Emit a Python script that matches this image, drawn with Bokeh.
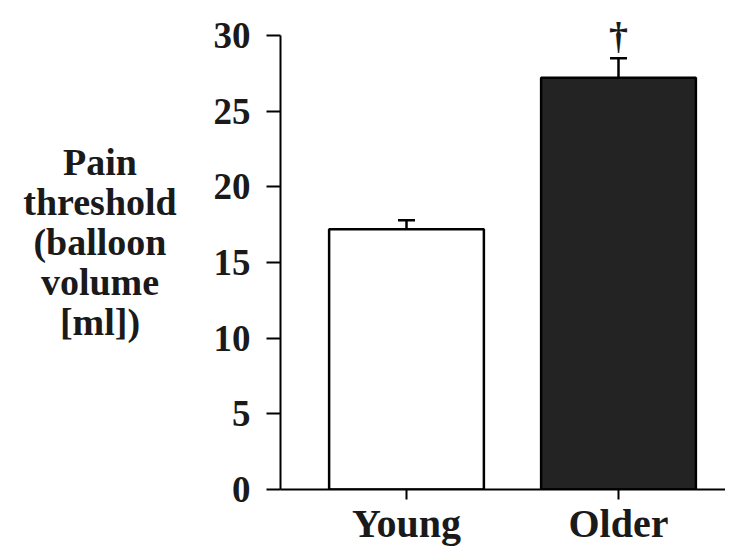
from bokeh.plotting import figure
from bokeh.models import Range1d, FixedTicker, Label, Div
from bokeh.layouts import row
from bokeh.embed import file_html
from bokeh.resources import INLINE

# ---- data ----
groups = ["Young", "Older"]
group_pos = [1, 2]
means = [17.2, 27.2]
errors = [0.6, 1.3]
y_ticks = [0, 5, 10, 15, 20, 25, 30]
y_label_lines = ["Pain", "threshold", "(balloon", "volume", "[ml])"]
marker = "\u2020"

FONT = "Liberation Serif"

DIV_W = 190
W, H = 715 - DIV_W, 556
left_b, top_b, bottom_b = 80, 10, 67
px_per_unit_x = 212.0
px_per_unit_y = 454.0 / 30
x_start = 1 - (404 - 278) / px_per_unit_x
x_end = x_start + (W - left_b) / px_per_unit_x
y_end = (H - top_b - bottom_b) / px_per_unit_y

p = figure(width=W, height=H, output_backend="svg", toolbar_location=None,
           x_range=Range1d(x_start, x_end), y_range=Range1d(0, y_end),
           min_border_left=left_b, min_border_right=0,
           min_border_top=top_b, min_border_bottom=bottom_b)
p.outline_line_color = None
p.xgrid.visible = False
p.ygrid.visible = False
p.background_fill_color = "white"

colors = ["white", "#232323"]
p.vbar(x=group_pos, top=means, width=0.73, bottom=0,
       fill_color=colors, line_color="black", line_width=2.5)

tops = [m + e for m, e in zip(means, errors)]
p.segment(x0=group_pos, y0=means, x1=group_pos, y1=tops, line_color="black", line_width=2.5)
cap = 0.04
p.segment(x0=[x - cap for x in group_pos], y0=tops, x1=[x + cap for x in group_pos], y1=tops,
          line_color="black", line_width=2.5)

# axes
for ax in (p.xaxis, p.yaxis):
    ax.axis_line_width = 2
    ax.axis_line_color = "black"
    ax.major_tick_line_width = 2
    ax.major_tick_line_color = "black"
    ax.major_tick_in = 0
    ax.minor_tick_line_color = None
    ax.major_label_text_font = FONT
    ax.major_label_text_font_style = "bold"
    ax.major_label_text_color = "#1a1a1a"

p.yaxis.ticker = FixedTicker(ticks=y_ticks)
p.yaxis.bounds = (0, 30)
p.yaxis.major_tick_out = 14
p.yaxis.major_label_standoff = 16
p.yaxis.major_label_text_font_size = "37px"

p.xaxis.ticker = FixedTicker(ticks=group_pos)
p.xaxis.major_label_overrides = {pos: g for pos, g in zip(group_pos, groups)}
p.xaxis.major_tick_out = 10
p.xaxis.major_label_standoff = 1
p.xaxis.major_label_text_font_size = "40px"

# significance marker above the older bar
p.add_layout(Label(x=group_pos[1], y=tops[1] + 1.45, text=marker,
                   text_font=FONT, text_font_style="bold", text_font_size="38px",
                   text_align="center", text_baseline="alphabetic", text_color="#1a1a1a"))

# horizontal multi-line y-axis title
label_html = (
    '<div style="font-family:\'Liberation Serif\';font-weight:bold;font-size:38px;'
    f'line-height:40px;text-align:center;color:#1a1a1a;width:{DIV_W}px;margin-top:137px;">'
    + "<br>".join(y_label_lines) + "</div>"
)
div = Div(text=label_html, width=DIV_W, height=H)

layout = row(div, p)
open("out.html", "w").write(file_html(layout, INLINE))
